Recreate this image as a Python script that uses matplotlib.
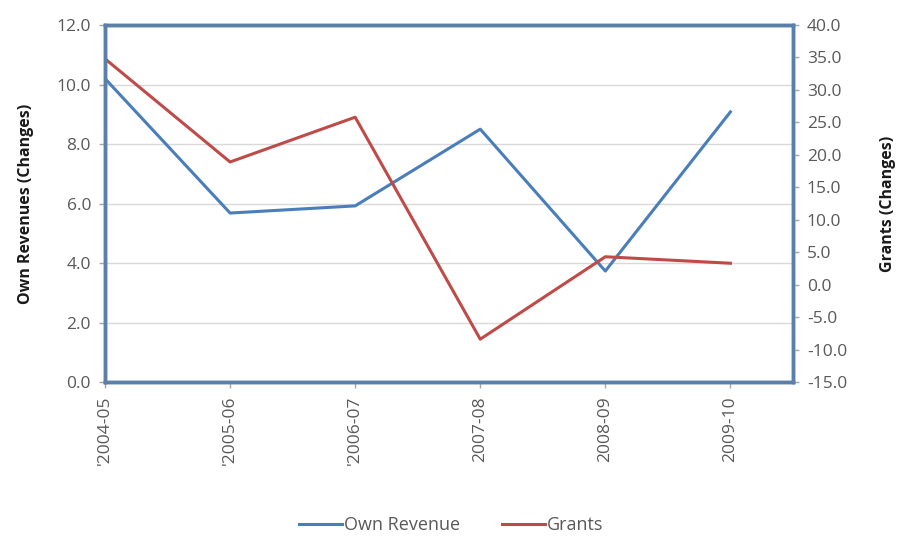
import matplotlib.pyplot as plt

years = ["'2004-05", "'2005-06", "'2006-07", "2007-08", "2008-09", "2009-10"]
own_revenue = [10.2, 5.68, 5.92, 8.5, 3.73, 9.08]
grants = [34.8, 18.9, 25.8, -8.4, 4.3, 3.3]

plt.rcParams["font.family"] = ["Open Sans", "DejaVu Sans"]

text_color = "#595959"
frame_color = "#5A7FA8"
blue = "#4A7EBB"
red = "#BE4B48"

fig = plt.figure(figsize=(9.02, 5.37), dpi=100)
ax = fig.add_axes([0.1164, 0.2886, 0.7627, 0.6648])
ax2 = ax.twinx()

x = list(range(len(years)))

line1, = ax.plot(x, own_revenue, color=blue, linewidth=2.2, label="Own Revenue")
line2, = ax2.plot(x, grants, color=red, linewidth=2.2, label="Grants")

ax.set_xlim(0, 5.5)
ax.set_ylim(0, 12)
ax.set_yticks([0, 2, 4, 6, 8, 10, 12])
ax.set_yticklabels([f"{v:.1f}" for v in range(0, 13, 2)])
ax2.set_ylim(-15, 40)
ax2.set_yticks(range(-15, 41, 5))
ax2.set_yticklabels([f"{v:.1f}" for v in range(-15, 41, 5)])

ax.set_xticks(x)
ax.set_xticklabels(years, rotation=90)

# light horizontal gridlines for the left axis
ax.grid(axis="y", color="#D9D9D9", linewidth=1)
ax.set_axisbelow(True)

for a in (ax, ax2):
    for s in a.spines.values():
        s.set_color(frame_color)
        s.set_linewidth(2.5)
    a.tick_params(colors=text_color, labelsize=12.5, length=4, width=1,
                  color="#A6A6A6", pad=6)

ax.set_ylabel("Own Revenues (Changes)", fontsize=11.5, fontweight="bold",
              color="#1A1A1A", labelpad=16)
ax2.set_ylabel("Grants (Changes)", fontsize=11.5, fontweight="bold",
               color="#1A1A1A", labelpad=24, rotation=90)

fig.legend([line1, line2], ["Own Revenue", "Grants"], loc="center",
           bbox_to_anchor=(0.5, 0.022), ncol=2, frameon=False,
           fontsize=13, labelcolor=text_color, handlelength=2.4,
           handletextpad=0.1, columnspacing=2.3)

fig.savefig("out.png", dpi=100)
